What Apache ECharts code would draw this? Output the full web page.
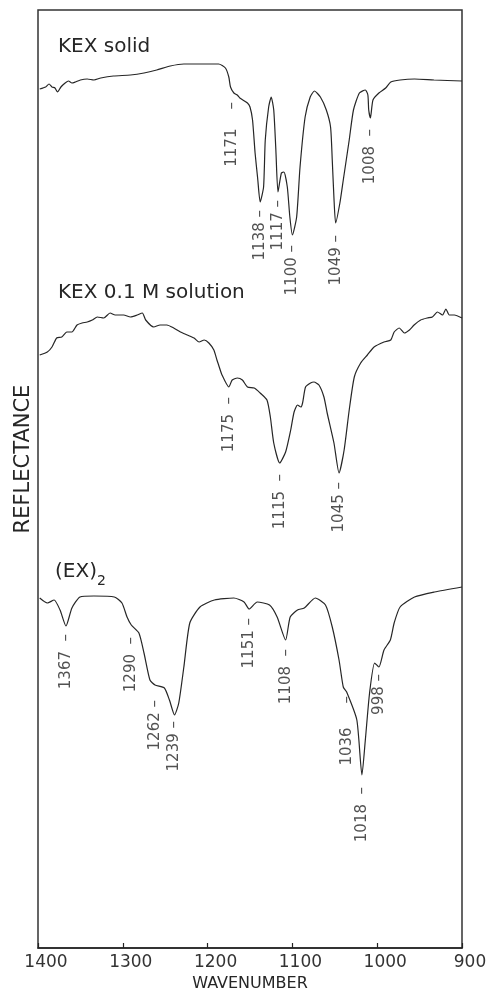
<!DOCTYPE html>
<html>
<head>
<meta charset="utf-8">
<script src="https://cdn.jsdelivr.net/npm/echarts@6/dist/echarts.min.js"></script>
<style>
  html, body { margin: 0; padding: 0; background: #fff; }
  #chart { width: 496px; height: 992px; }
</style>
</head>
<body>
<div id="chart"></div>
<script>
// Reflectance spectra, stacked with a vertical offset (arbitrary units).
// Each point: [wavenumber in cm-1, reflectance].
const kexSolid = [
  [1398,859],[1391,861],[1387,864],[1383.5,861],[1380,860],[1377,856],[1373,861],[1368,865],
  [1364,867],[1360,865],[1356,866],[1350,868],[1342,869],[1334,868],[1326,870],[1311,872],
  [1291,873],[1275,875],[1260,878],[1244,882],[1228,884],[1204,884],[1187,884],[1179,880],
  [1175,871],[1173,861],[1169,855],[1165,853],[1162,850],[1153,845],[1150,841],[1147,828],
  [1144,795],[1141,770],[1138,746],[1134,761],[1132,808],[1128,841],[1125,851],[1122,838],
  [1119.5,798],[1117,756],[1113,775],[1110,776],[1106,761],[1103,731],[1100,713],[1095,731],
  [1091,781],[1085,831],[1079,851],[1074,857],[1067,851],[1060,838],[1055,821],[1053,788],
  [1051,750],[1049,725],[1044,745],[1040,768],[1033,808],[1028,838],[1021,855],[1014,858],
  [1011,853],[1010,838],[1008,830],[1005,848],[998,855],[990,860],[984,866],[973,868],
  [956,869],[933,868],[900,867]
];
const kexSolution = [
  [1398,593],[1389,596],[1383.5,601],[1378,610],[1372,611],[1366,616],[1360,616],[1354,623],
  [1348,625],[1342,626],[1336,628],[1330,631],[1322.5,630],[1315,635],[1309,633],[1299,633],
  [1291,631],[1283,633],[1277,635],[1273,628],[1263.5,621],[1256,623],[1248,623],[1240,620],
  [1232,616],[1224,613],[1216,610],[1210,606],[1204,608],[1198.5,605],[1192.6,598],[1189,588],
  [1187,583],[1183,573],[1175,561],[1171,568],[1165,570],[1159,568],[1153,561],[1145,560],
  [1138,555],[1130,548],[1126,531],[1122,505],[1115,485],[1108,496],[1102,518],[1098,536],
  [1094,543],[1090,541],[1088,545],[1084.5,561],[1078.6,565],[1074.6,566],[1068.7,563],
  [1062.8,551],[1059,535],[1051,505],[1045,475],[1039,498],[1033,538],[1027,571],[1019.5,585],
  [1011.6,593],[1003.7,601],[992,606],[984,608],[980,616],[974,620],[968,615],[962,618],
  [956.5,623],[948.7,628],[941,630],[935,631],[929,636],[923,633],[919,639],[915,633],
  [909,633],[900,630]
];
const exDimer = [
  [1398,350],[1389,345],[1381,348],[1374,338],[1367,322],[1360,340],[1350.5,351],[1334,352],
  [1310,351],[1301,345],[1295,331],[1290,323],[1281,315],[1275,295],[1268,268],[1262,263],
  [1251,260],[1245,248],[1239,233],[1234,245],[1228,281],[1221,325],[1209,341],[1192,348],
  [1169,350],[1157,346],[1151,339],[1141.5,346],[1127,343],[1118,331],[1108,308],[1102.6,331],
  [1094,338],[1086,340],[1073,350],[1061,343],[1053,321],[1045,288],[1040,261],[1036,256],
  [1024,228],[1018,173],[1014,208],[1009,255],[1003,285],[998,281],[992,298],[984.5,308],
  [980,325],[973,341],[956,351],[932.5,356],[900,361]
];

// Assigned bands (cm-1)
const solidPeaks = [1171, 1138, 1117, 1100, 1049, 1008];
const solutionPeaks = [1175, 1115, 1045];
const exPeaks = [1367, 1290, 1262, 1239, 1151, 1108, 1036, 1018, 998];

// Label placement: pixel drop below the trace, and spaces between number and dash
const solidGap = [12, 8, 8, 10, 12, 11];
const solidPad = [4, 1, 1, 1, 1, 2];
const solutionGap = [10, 11, 9];
const solutionPad = [2, 2, 1];
const exGap = [8, 12, 15, 6, 9, 9, 4, 12, 7];
const exPad = [2, 2, 1, 1, 1, 2, 5, 2, 1];

const xTicks = [1400, 1300, 1200, 1100, 1000, 900];

const INK = '#262626';
const FONT = 'DejaVu Sans';

function valueAt(curve, w) {
  for (let i = 0; i < curve.length - 1; i++) {
    const [w0, r0] = curve[i];
    const [w1, r1] = curve[i + 1];
    if (w <= w0 && w >= w1) {
      const t = (w0 - w) / (w0 - w1);
      return r0 + (r1 - r0) * t;
    }
  }
  return curve[curve.length - 1][1];
}

function traceSeries(name, curve) {
  return {
    name, type: 'line', data: curve, showSymbol: false, smooth: 0.2,
    lineStyle: { color: INK, width: 1.2 }, silent: true, z: 2
  };
}

function bandLabels(curve, peaks, gaps, pads) {
  return {
    type: 'scatter', symbolSize: 1, silent: true, z: 3,
    itemStyle: { color: 'rgba(0,0,0,0)' },
    data: peaks.map((p, i) => ({
      value: [p, valueAt(curve, p)],
      label: {
        position: [0.5, gaps[i] + 0.5],
        formatter: p + ' '.repeat(pads[i]) + '–'
      }
    })),
    label: {
      show: true, rotate: 90, align: 'right', verticalAlign: 'middle',
      fontSize: 15, fontFamily: FONT, color: INK
    }
  };
}

const chart = echarts.init(document.getElementById('chart'), null, { renderer: 'canvas' });
chart.setOption({
  backgroundColor: '#fff',
  animation: false,
  grid: {
    left: 38, right: 34, top: 10, bottom: 44,
    outerBoundsMode: 'none', containLabel: false,
    show: true, borderColor: '#333', borderWidth: 1.5
  },
  xAxis: {
    type: 'value', min: xTicks[xTicks.length - 1], max: xTicks[0], interval: 100, inverse: true,
    name: 'WAVENUMBER', nameLocation: 'middle', nameGap: 27,
    nameTextStyle: { fontSize: 16, fontFamily: FONT, color: INK },
    axisLine: { show: true, lineStyle: { color: '#222', width: 1.5 } },
    axisTick: { show: true, inside: true, length: 5, lineStyle: { color: '#222', width: 1.2 } },
    axisLabel: {
      fontSize: 17, fontFamily: FONT, color: '#333', margin: 6,
      padding: [0, 0, 0, 16], showMinLabel: true, showMaxLabel: true,
      formatter: (v) => String(v)
    },
    splitLine: { show: false }
  },
  yAxis: { type: 'value', min: 0, max: 938, show: false },
  series: [
    traceSeries('KEX solid', kexSolid),
    traceSeries('KEX 0.1 M solution', kexSolution),
    traceSeries('(EX)2', exDimer),
    bandLabels(kexSolid, solidPeaks, solidGap, solidPad),
    bandLabels(kexSolution, solutionPeaks, solutionGap, solutionPad),
    bandLabels(exDimer, exPeaks, exGap, exPad)
  ],
  graphic: [
    { type: 'text', x: 58, y: 47,
      style: { text: 'KEX solid', fontSize: 20, fontFamily: FONT, fill: INK, verticalAlign: 'middle' } },
    { type: 'text', x: 58, y: 293,
      style: { text: 'KEX 0.1 M solution', fontSize: 20, fontFamily: FONT, fill: INK, verticalAlign: 'middle' } },
    { type: 'text', x: 55, y: 572,
      style: { text: '(EX)', fontSize: 20, fontFamily: FONT, fill: INK, verticalAlign: 'middle' } },
    { type: 'text', x: 97, y: 581,
      style: { text: '2', fontSize: 14, fontFamily: FONT, fill: INK, verticalAlign: 'middle' } },
    { type: 'text', x: 24, y: 459, rotation: Math.PI / 2,
      style: { text: 'REFLECTANCE', fontSize: 21, fontFamily: FONT, fill: INK,
               align: 'center', verticalAlign: 'middle' } }
  ]
});
</script>
</body>
</html>
